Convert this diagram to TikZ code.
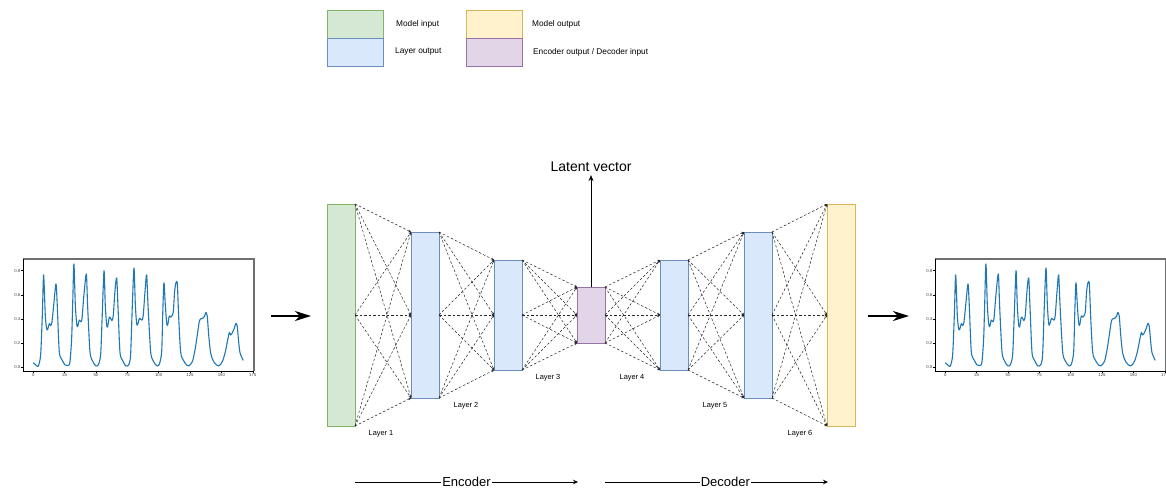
\documentclass[tikz,border=0pt]{standalone}
\usepackage{fontspec}
\setmainfont{Liberation Sans}
\usetikzlibrary{arrows.meta}
\definecolor{gfill}{HTML}{D5E8D4}\definecolor{gdraw}{HTML}{82B366}
\definecolor{bfill}{HTML}{DAE8FC}\definecolor{bdraw}{HTML}{6C8EBF}
\definecolor{yfill}{HTML}{FFF2CC}\definecolor{ydraw}{HTML}{D6B656}
\definecolor{pfill}{HTML}{E1D5E7}\definecolor{pdraw}{HTML}{9673A6}
\definecolor{mplblue}{HTML}{1F77B4}
\definecolor{spinegray}{HTML}{707070}
\newcommand\tsplot[1]{%
\begin{scope}[xshift=#1pt]
  \draw[spinegray, line width=1.8pt] (23,259) -- (254,259) -- (254,371);
  \draw[black, line width=0.6pt] (254,371) -- (23,371) -- (23,259);
  \foreach \v/\l in {0/0.0,0.2/0.2,0.4/0.4,0.6/0.6,0.8/0.8}{
    \draw[line width=0.4pt] (23,{367-120.4*\v}) -- (21,{367-120.4*\v});
    \node[ticklbl, anchor=east] at (20.5,{367-120.4*\v}) {\l};
  }
  \foreach \t in {0,25,...,175}{
    \draw[line width=0.4pt] ({33.3+1.2537*\t},371) -- ({33.3+1.2537*\t},373);
    \node[ticklbl, anchor=north] at ({33.3+1.2537*\t},373.3) {\t};
  }
  \begin{scope}[shift={(33.3,367)}, x=1.2537pt, y=120.4pt]
  \draw[mplblue, line width=1.1pt, line join=round] plot[smooth, tension=0.45] coordinates {
  (0,0.036) (2.66,0.011) (4.0,0.008) (5.85,0.10) (7.2,0.43) (8.24,0.765)
  (9.57,0.43) (10.6,0.32) (11.4,0.31) (12.8,0.36) (13.8,0.345) (14.9,0.375)
  (16.5,0.54) (18.1,0.69) (19.1,0.515) (20.7,0.13) (22.9,0.06) (25.3,0.017)
  (27.4,0.011) (29.2,0.04) (30.6,0.24) (31.4,0.52) (32.4,0.856) (33.5,0.52)
  (34.6,0.36) (35.4,0.335) (36.7,0.39) (37.8,0.377) (38.8,0.40) (40.4,0.6)
  (42.3,0.773) (43.3,0.515) (45.2,0.127) (47.3,0.05) (49.7,0.011) (51.8,0.017)
  (53.7,0.10) (54.8,0.377) (56.4,0.80) (57.4,0.515) (58.5,0.35) (59.3,0.335)
  (60.6,0.413) (61.7,0.404) (62.7,0.385) (63.8,0.43) (65.1,0.626) (66.5,0.74)
  (67.5,0.515) (69.1,0.127) (71,0.058) (73.6,0.011) (76,0.017) (77.6,0.10)
  (79,0.515) (80.3,0.823) (81.4,0.515) (82.4,0.363) (83.2,0.35) (84.6,0.404)
  (85.6,0.396) (86.7,0.39) (87.7,0.43) (89.1,0.626) (90.4,0.765) (91.5,0.515)
  (93.6,0.127) (95.7,0.05) (98.4,0.011) (100.5,0.022) (102.4,0.127) (103.2,0.43)
  (104.2,0.70) (105.3,0.515) (106.4,0.363) (107.2,0.35) (108.5,0.424) (109.5,0.415)
  (110.6,0.424) (111.7,0.46) (112.7,0.626) (113.8,0.70) (114.9,0.69) (115.9,0.43)
  (117.5,0.127) (119.6,0.058) (122.3,0.017) (124.4,0.011) (127.1,0.05) (129.2,0.155)
  (130.8,0.266) (132.4,0.377) (133.5,0.40) (135.1,0.404) (136.7,0.424) (137.7,0.454)
  (138.8,0.418) (139.9,0.266) (141.5,0.114) (143.6,0.05) (146.2,0.017) (148.4,0.011)
  (151,0.05) (153.2,0.127) (155.3,0.238) (156.4,0.288) (157.4,0.266) (158.7,0.283)
  (160.1,0.316) (161.7,0.363) (162.7,0.335) (163.8,0.21) (164.8,0.122) (166.4,0.078)
  (167.5,0.055)};
  \end{scope}
\end{scope}}
\begin{document}
\begin{tikzpicture}[x=1pt, y=-1pt,
  layer/.style={draw, line width=0.8pt, minimum width=28pt, inner sep=0pt, outer sep=0pt},
  legbox/.style={draw, line width=0.8pt, minimum width=56pt, minimum height=28pt, inner sep=0pt, outer sep=0pt},
  legtxt/.style={anchor=west, inner sep=0pt, font=\fontsize{8.3}{10}\selectfont},
  lbl/.style={inner sep=0pt, font=\fontsize{7.4}{9}\selectfont},
  ticklbl/.style={inner sep=0pt, text=black!75, font=\fontsize{4.3}{5}\selectfont},
  conn/.style={draw=black!85, line width=0.5pt, dash pattern=on 2.5pt off 2pt, -{Stealth[length=2.5pt,width=2.5pt]}},
  bigarrow/.style={line width=1.6pt, -{Stealth[length=16pt,width=10pt,inset=5pt]}},
  sectarrow/.style={line width=0.8pt, -{Stealth[length=5pt,width=4.5pt]}},
  secttxt/.style={fill=white, inner sep=1pt, font=\fontsize{13}{15}\selectfont}]
\useasboundingbox (0,0) rectangle (1166,493);
\fill[white] (0,0) rectangle (1166,493);

% legend
\node[legbox, fill=gfill, draw=gdraw] (lg1) at (355,24) {};
\node[legbox, fill=bfill, draw=bdraw] (lg2) at (355,52) {};
\node[legbox, fill=yfill, draw=ydraw] (lg3) at (494,24) {};
\node[legbox, fill=pfill, draw=pdraw] (lg4) at (494,52) {};
\node[legtxt] (lt1) at (396,24) {Model input};
\node[legtxt] (lt2) at (395,52) {Layer output};
\node[legtxt] (lt3) at (532,24) {Model output};
\node[legtxt] (lt4) at (533,52) {Encoder output / Decoder input};

% layers
\node[layer, fill=gfill, draw=gdraw, minimum height=222pt] (L1) at (341,315) {};
\node[layer, fill=bfill, draw=bdraw, minimum height=166pt] (L2) at (425,315) {};
\node[layer, fill=bfill, draw=bdraw, minimum height=110pt] (L3) at (508,315) {};
\node[layer, fill=pfill, draw=pdraw, minimum height=56pt] (Z) at (591,315) {};
\node[layer, fill=bfill, draw=bdraw, minimum height=110pt] (L4) at (674,315) {};
\node[layer, fill=bfill, draw=bdraw, minimum height=166pt] (L5) at (758,315) {};
\node[layer, fill=yfill, draw=ydraw, minimum height=222pt] (L6) at (841,315) {};

% connections
\foreach \a/\b in {L1/L2,L2/L3,L3/Z,Z/L4,L4/L5,L5/L6}{
  \foreach \s in {north east,east,south east}{
    \foreach \t in {north west,west,south west}{
      \draw[conn] (\a.\s) -- (\b.\t);
    }
  }
}

% layer labels
\node[lbl] (t1) at ([xshift=26pt,yshift=-7.5pt]L1.south east) {Layer 1};
\node[lbl] (t2) at ([xshift=27pt,yshift=-8pt]L2.south east) {Layer 2};
\node[lbl] (t3) at ([xshift=26pt,yshift=-8pt]L3.south east) {Layer 3};
\node[lbl] (t4) at ([xshift=-28pt,yshift=-8pt]L4.south west) {Layer 4};
\node[lbl] (t5) at ([xshift=-29pt,yshift=-8pt]L5.south west) {Layer 5};
\node[lbl] (t6) at ([xshift=-27pt,yshift=-7.5pt]L6.south west) {Layer 6};

% latent vector
\node[inner sep=3pt, font=\fontsize{14}{16}\selectfont] (lv) at (591,167) {Latent vector};
\draw[line width=0.9pt, -{Stealth[length=6pt,width=5pt]}] (Z) -- (lv);

% input / output arrows
\coordinate (inS) at (271,316);
\coordinate (inE) at (311,316);
\coordinate (outS) at (868,316);
\coordinate (outE) at (909,316);
\draw[bigarrow] (inS) -- (inE);
\draw[bigarrow] (outS) -- (outE);

% encoder / decoder
\coordinate (eS) at (355,482);
\coordinate (eE) at (578,482);
\coordinate (dS) at (605,482);
\coordinate (dE) at (828,482);
\draw[sectarrow] (eS) -- node[secttxt] (enc) {Encoder} (eE);
\draw[sectarrow] (dS) -- node[secttxt, pos=0.54] (dec) {Decoder} (dE);

% plots
\tsplot{0}
\begin{scope}
\clip (0,0) rectangle (1166,493);
\tsplot{912}
\end{scope}
\end{tikzpicture}
\end{document}
